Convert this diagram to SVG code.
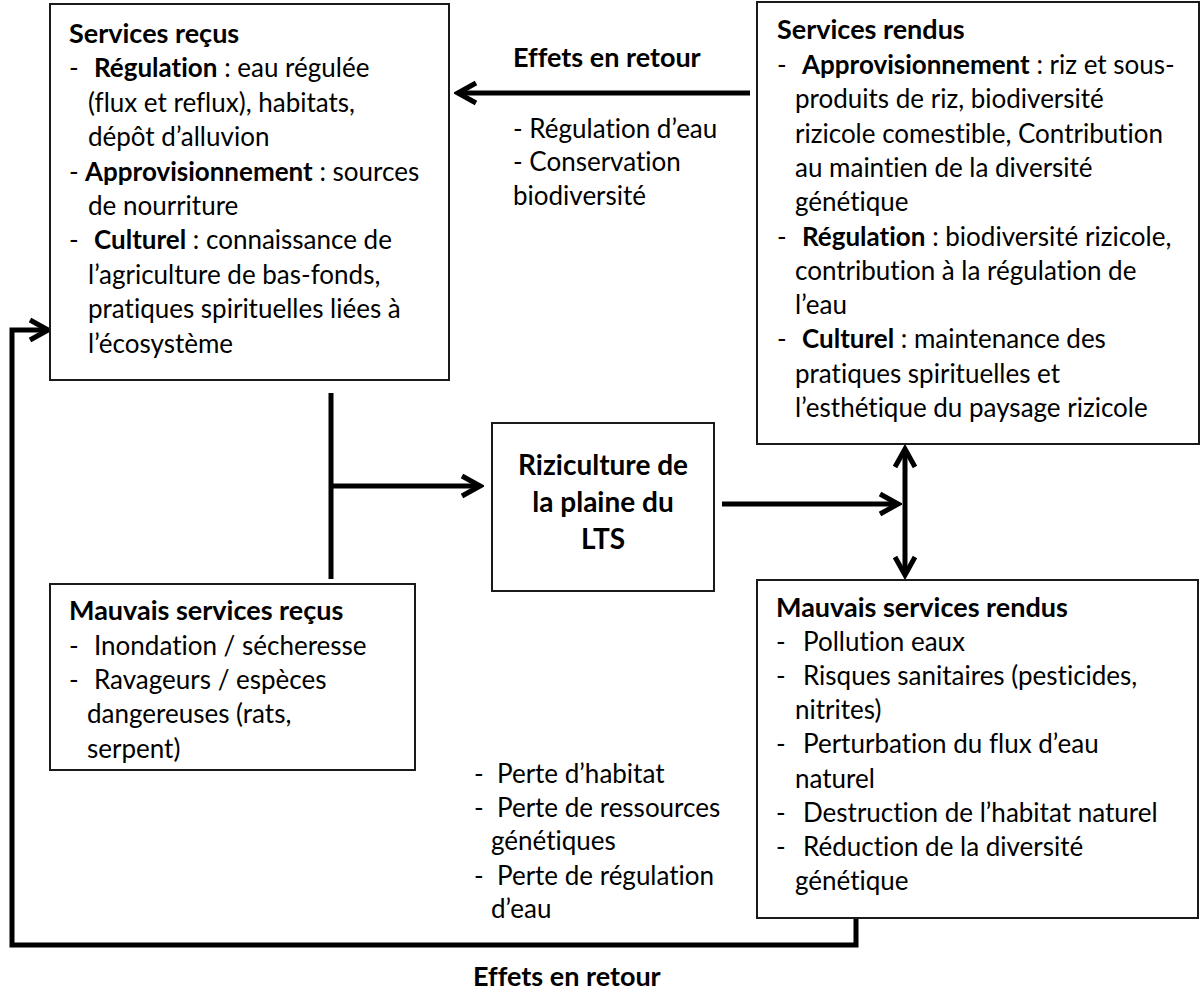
<svg xmlns="http://www.w3.org/2000/svg" width="1200" height="990" viewBox="0 0 1200 990">
<style>
text{font-family:Lato,"Open Sans","Liberation Sans",sans-serif;font-size:26px;fill:#000;font-variant-ligatures:none}
.b{font-weight:bold}
.t{font-weight:bold;font-size:27px}
.box{fill:#fff;stroke:#1a1a1a;stroke-width:2}
.c{fill:none;stroke:#000;stroke-width:5}
.mid{text-anchor:middle;font-weight:bold;font-size:28px}
</style>
<defs>
<marker id="ch" viewBox="-22 -14 26 28" markerWidth="26" markerHeight="28" refX="0" refY="0" orient="auto-start-reverse" markerUnits="userSpaceOnUse">
<path d="M-18,-10 L0,0 L-18,10" fill="none" stroke="#000" stroke-width="5"/>
</marker>
</defs>
<g id="connectors">
<path class="c" d="M750,93 H458" marker-end="url(#ch)"/>
<path class="c" d="M331,393 V579 M331,486 H480" marker-end="url(#ch)"/>
<path class="c" d="M722,504 H898" marker-end="url(#ch)"/>
<path class="c" d="M905,449 V575" marker-start="url(#ch)" marker-end="url(#ch)"/>
<path class="c" d="M856,918 V945 H12 V330 H48" stroke-linejoin="miter" marker-end="url(#ch)"/>
</g>
<g id="services-recus">
<rect class="box" x="50" y="4" width="399" height="376"/>
<text class="t" x="69" y="43">Services reçus</text>
<text x="69" y="77">-  <tspan class="b" x="94">Régulation</tspan> : eau régulée</text>
<text x="88" y="112">(flux et reflux), habitats,</text>
<text x="88" y="146">dépôt d’alluvion</text>
<text x="69" y="181">- <tspan class="b" x="85">Approvisionnement</tspan> : sources</text>
<text x="88" y="215">de nourriture</text>
<text x="69" y="249">-  <tspan class="b" x="94">Culturel</tspan> : connaissance de</text>
<text x="88" y="284">l’agriculture de bas-fonds,</text>
<text x="88" y="318">pratiques spirituelles liées à</text>
<text x="88" y="353">l’écosystème</text>
</g>
<g id="services-rendus">
<rect class="box" x="757" y="2" width="442" height="442"/>
<text class="t" x="777" y="39">Services rendus</text>
<text x="777" y="74">-  <tspan class="b" x="802">Approvisionnement</tspan> : riz et sous-</text>
<text x="795" y="108">produits de riz, biodiversité</text>
<text x="795" y="143">rizicole comestible, Contribution</text>
<text x="795" y="177">au maintien de la diversité</text>
<text x="795" y="211">génétique</text>
<text x="777" y="246">-  <tspan class="b" x="802">Régulation</tspan> : biodiversité rizicole,</text>
<text x="795" y="280">contribution à la régulation de</text>
<text x="795" y="314">l’eau</text>
<text x="777" y="348">-  <tspan class="b" x="802">Culturel</tspan> : maintenance des</text>
<text x="795" y="383">pratiques spirituelles et</text>
<text x="795" y="417">l’esthétique du paysage rizicole</text>
</g>
<g id="effets-haut">
<text class="t" x="513" y="67">Effets en retour</text>
<text x="513" y="138">- Régulation d’eau</text>
<text x="513" y="171">- Conservation</text>
<text x="513" y="205">biodiversité</text>
</g>
<g id="riziculture">
<rect class="box" x="492" y="423" width="222" height="168"/>
<text class="mid" x="603" y="475">Riziculture de</text>
<text class="mid" x="603" y="512">la plaine du</text>
<text class="mid" x="603" y="549">LTS</text>
</g>
<g id="mauvais-recus">
<rect class="box" x="50" y="584" width="365" height="186"/>
<text class="t" x="69" y="620">Mauvais services reçus</text>
<text x="69" y="655">-  <tspan x="94">Inondation / sécheresse</tspan></text>
<text x="69" y="689">-  <tspan x="94">Ravageurs / espèces</tspan></text>
<text x="87" y="723">dangereuses (rats,</text>
<text x="87" y="758">serpent)</text>
</g>
<g id="pertes">
<text x="474" y="783">-  <tspan x="497">Perte d’habitat</tspan></text>
<text x="474" y="817">-  <tspan x="497">Perte de ressources</tspan></text>
<text x="491" y="850">génétiques</text>
<text x="474" y="885">-  <tspan x="497">Perte de régulation</tspan></text>
<text x="491" y="918">d’eau</text>
</g>
<g id="mauvais-rendus">
<rect class="box" x="757" y="580" width="441" height="338"/>
<text class="t" x="776" y="617">Mauvais services rendus</text>
<text x="776" y="651">-  <tspan x="803">Pollution eaux</tspan></text>
<text x="776" y="685">-  <tspan x="803">Risques sanitaires (pesticides,</tspan></text>
<text x="795" y="719">nitrites)</text>
<text x="776" y="753">-  <tspan x="803">Perturbation du flux d’eau</tspan></text>
<text x="795" y="788">naturel</text>
<text x="776" y="822">-  <tspan x="803">Destruction de l’habitat naturel</tspan></text>
<text x="776" y="856">-  <tspan x="803">Réduction de la diversité</tspan></text>
<text x="795" y="890">génétique</text>
</g>
<g id="effets-bas">
<text class="t" x="473" y="986">Effets en retour</text>
</g>
</svg>
